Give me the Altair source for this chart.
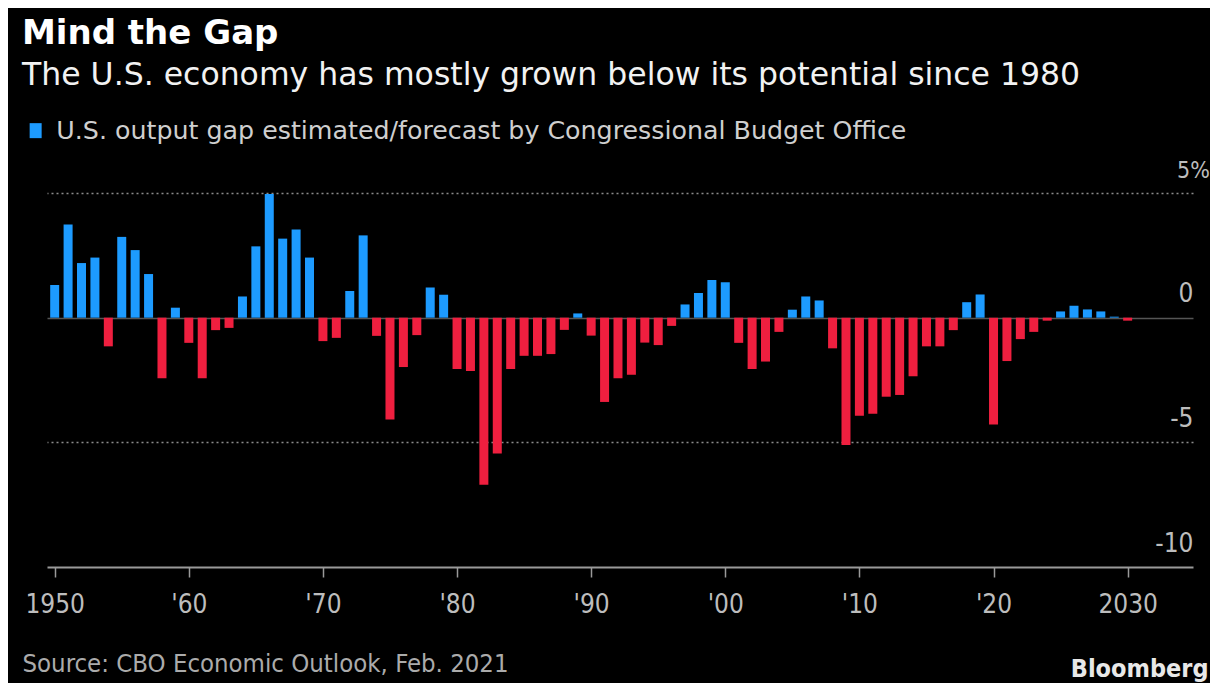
import altair as alt
import pandas as pd

# ---- data ----
years = list(range(1950, 2031))
gap = [
    1.31, 3.74, 2.19, 2.41, -1.15, 3.24, 2.71, 1.75, -2.43, 0.40,      # 1950s
    -1.01, -2.43, -0.50, -0.41, 0.85, 2.86, 4.96, 3.17, 3.54, 2.41,    # 1960s
    -0.94, -0.81, 1.07, 3.30, -0.73, -4.08, -1.98, -0.70, 1.21, 0.92,  # 1970s
    -2.06, -2.14, -6.70, -5.45, -2.06, -1.53, -1.53, -1.46, -0.49, 0.17,  # 1980s
    -0.72, -3.38, -2.43, -2.29, -1.00, -1.10, -0.33, 0.53, 0.99, 1.51,  # 1990s
    1.42, -1.01, -2.06, -1.76, -0.57, 0.32, 0.85, 0.69, -1.23, -5.11,   # 2000s
    -3.93, -3.85, -3.17, -3.10, -2.35, -1.15, -1.15, -0.50, 0.62, 0.93, # 2010s
    -4.28, -1.74, -0.86, -0.57, -0.12, 0.25, 0.48, 0.33, 0.25, 0.04,   # 2020s
    -0.12,                                                               # 2030
]
series_name = "U.S. output gap estimated/forecast by Congressional Budget Office"
x_tick_values = [1950, 1960, 1970, 1980, 1990, 2000, 2010, 2020, 2030]
y_tick_values = [-10, -5, 0, 5]

title_text = "Mind the Gap"
subtitle_text = "The U.S. economy has mostly grown below its potential since 1980"
source_text = "Source: CBO Economic Outlook, Feb. 2021"
brand_text = "Bloomberg"

df = pd.DataFrame({"year": years, "gap": gap, "series": series_name})

BLUE = "#1d9bff"
RED = "#ef1f3f"
FONT = "DejaVu Sans"
COND = "DejaVu Sans Condensed"

x_label_expr = (
    "(datum.value == 1950 || datum.value == 2030) ? toString(datum.value) "
    ": \"'\" + substring(toString(datum.value), 2, 4)"
)

bars = alt.Chart(df).mark_bar(size=9).encode(
    x=alt.X(
        "year:Q",
        scale=alt.Scale(domain=[1949.8, 2034.5], nice=False, zero=False),
        axis=alt.Axis(
            values=x_tick_values,
            labelExpr=x_label_expr,
            grid=False,
            domainColor="#9a9a9a",
            domainWidth=2,
            tickColor="#9a9a9a",
            tickWidth=1.5,
            tickSize=10,
            labelColor="#bdbdbd",
            labelFont=COND,
            labelFontSize=26,
            labelPadding=14,
            title=source_text,
            titleFont=COND,
            titleFontSize=25.5,
            titleFontWeight="normal",
            titleColor="#ababab",
            titleAlign="left",
            titleAnchor="start",
            titleBaseline="alphabetic",
            titleX=-25,
            titleY=104,
        ),
    ),
    y=alt.Y(
        "gap:Q",
        scale=alt.Scale(domain=[-10, 5], nice=False),
        axis=alt.Axis(
            orient="right",
            values=y_tick_values,
            labelExpr="datum.value == 5 ? '5%' : toString(datum.value)",
            domain=False,
            ticks=False,
            grid=True,
            gridColor={"condition": {"test": "datum.value === 0", "value": "#555555"}, "value": "#8c8c8c"},
            gridDash={"condition": {"test": "datum.value === 0", "value": []}, "value": [2, 3]},
            gridOpacity={"condition": {"test": "datum.value === -10", "value": 0}, "value": 1},
            gridWidth=1.6,
            labelAlign={"condition": {"test": "datum.value === 5", "value": "center"}, "value": "right"},
            labelFontSize={"condition": {"test": "datum.value === 5", "value": 23}, "value": 26},
            labelBaseline="alphabetic",
            labelOffset=-16,
            labelPadding=0,
            labelColor="#bdbdbd",
            labelFont=COND,
            title=brand_text,
            titleAngle=0,
            titleFont=COND,
            titleFontSize=25,
            titleFontWeight="bold",
            titleColor="#e8e8e8",
            titleAlign="right",
            titleBaseline="alphabetic",
            titleX=15,
            titleY=483,
        ),
    ),
    color=alt.condition(
        alt.datum.gap < 0,
        alt.value(RED),
        alt.Color(
            "series:N",
            scale=alt.Scale(range=[BLUE]),
            legend=alt.Legend(
                orient="none",
                legendX=-24,
                legendY=-75,
                title=None,
                symbolType="M-0.8,-1H0.8V1H-0.8Z",
                symbolSize=225,
                symbolStrokeWidth=0,
                symbolOpacity=1,
                labelFont=FONT,
                labelFontSize=25.3,
                labelColor="#cfcfcf",
                labelLimit=0,
                labelOffset=8,
            ),
        ),
    ),
)

chart = bars.properties(
    width=1146,
    height=374,
    autosize=alt.AutoSizeParams(type="none"),
    padding={"left": 39, "top": 185, "right": 17, "bottom": 116},
    background="#000000",
    title=alt.TitleParams(
        text=title_text,
        subtitle=subtitle_text,
        anchor="start",
        frame="group",
        dx=-25,
        dy=-7,
        font=FONT,
        fontSize=34,
        fontWeight="bold",
        color="#ffffff",
        subtitleFont=FONT,
        subtitleFontSize=31.5,
        subtitleColor="#f2f2f2",
        subtitlePadding=9,
        offset=20,
    ),
).configure_view(strokeWidth=0)

chart.save("out.html", embed_options={"renderer": "svg", "actions": False})
